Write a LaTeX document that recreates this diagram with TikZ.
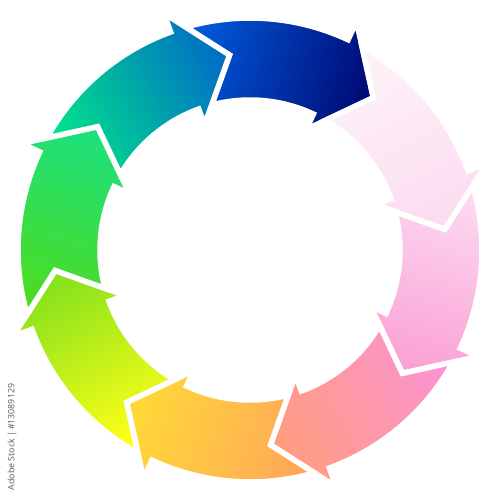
\documentclass[tikz,border=0pt]{standalone}
\usepackage{fontspec}
\setsansfont{Open Sans}
\definecolor{blueA}{HTML}{0058D8}
\definecolor{blueB}{HTML}{000C78}
\definecolor{paleA}{HTML}{FDF2F8}
\definecolor{paleB}{HTML}{FCDCF0}
\definecolor{pinkA}{HTML}{FCD8F0}
\definecolor{pinkB}{HTML}{FBA2D5}
\definecolor{salmonA}{HTML}{FB94D0}
\definecolor{salmonB}{HTML}{FF9C80}
\definecolor{orangeA}{HTML}{FFA858}
\definecolor{orangeB}{HTML}{FFD838}
\definecolor{yellowA}{HTML}{FFFF18}
\definecolor{yellowB}{HTML}{88E21C}
\definecolor{greenA}{HTML}{4CDC22}
\definecolor{greenB}{HTML}{1EE07A}
\definecolor{tealA}{HTML}{00E08C}
\definecolor{tealB}{HTML}{0070C4}
\begin{document}
\begin{tikzpicture}[x=0.2mm, y=0.2mm,
	piece/.style={draw=white, line width=1.1mm, line join=miter},
	stamp/.style={rotate=90, text=black!65, font=\sffamily\fontsize{5}{6}\selectfont}]
	\useasboundingbox (-250,-250) rectangle (249,250);
	% eight curved arrows, clockwise, \t = angle of the tip
	\foreach \t/\ca/\cb [evaluate=\t as \sa using \t+22.5] in
		{51/blueA/blueB, 6/paleA/paleB, -39/pinkA/pinkB, -84/salmonA/salmonB,
		 -129/orangeA/orangeB, -174/yellowA/yellowB, 141/greenA/greenB, 96/tealA/tealB}
	{
		\shadedraw[piece, left color=\ca, right color=\cb, shading angle=\sa]
			({\t+55.1}:232) arc[start angle=\t+55.1, end angle=\t+14, radius=232]
			-- ({\t+14}:252) -- (\t:196) -- ({\t+14}:133) -- ({\t+14}:150)
			arc[start angle=\t+14, end angle=\t+53.8, radius=150]
			-- ({\t+45}:196) -- cycle;
	}
	\node[stamp] (credit) at (-238,-187) {Adobe Stock | \#13089129};
\end{tikzpicture}
\end{document}
